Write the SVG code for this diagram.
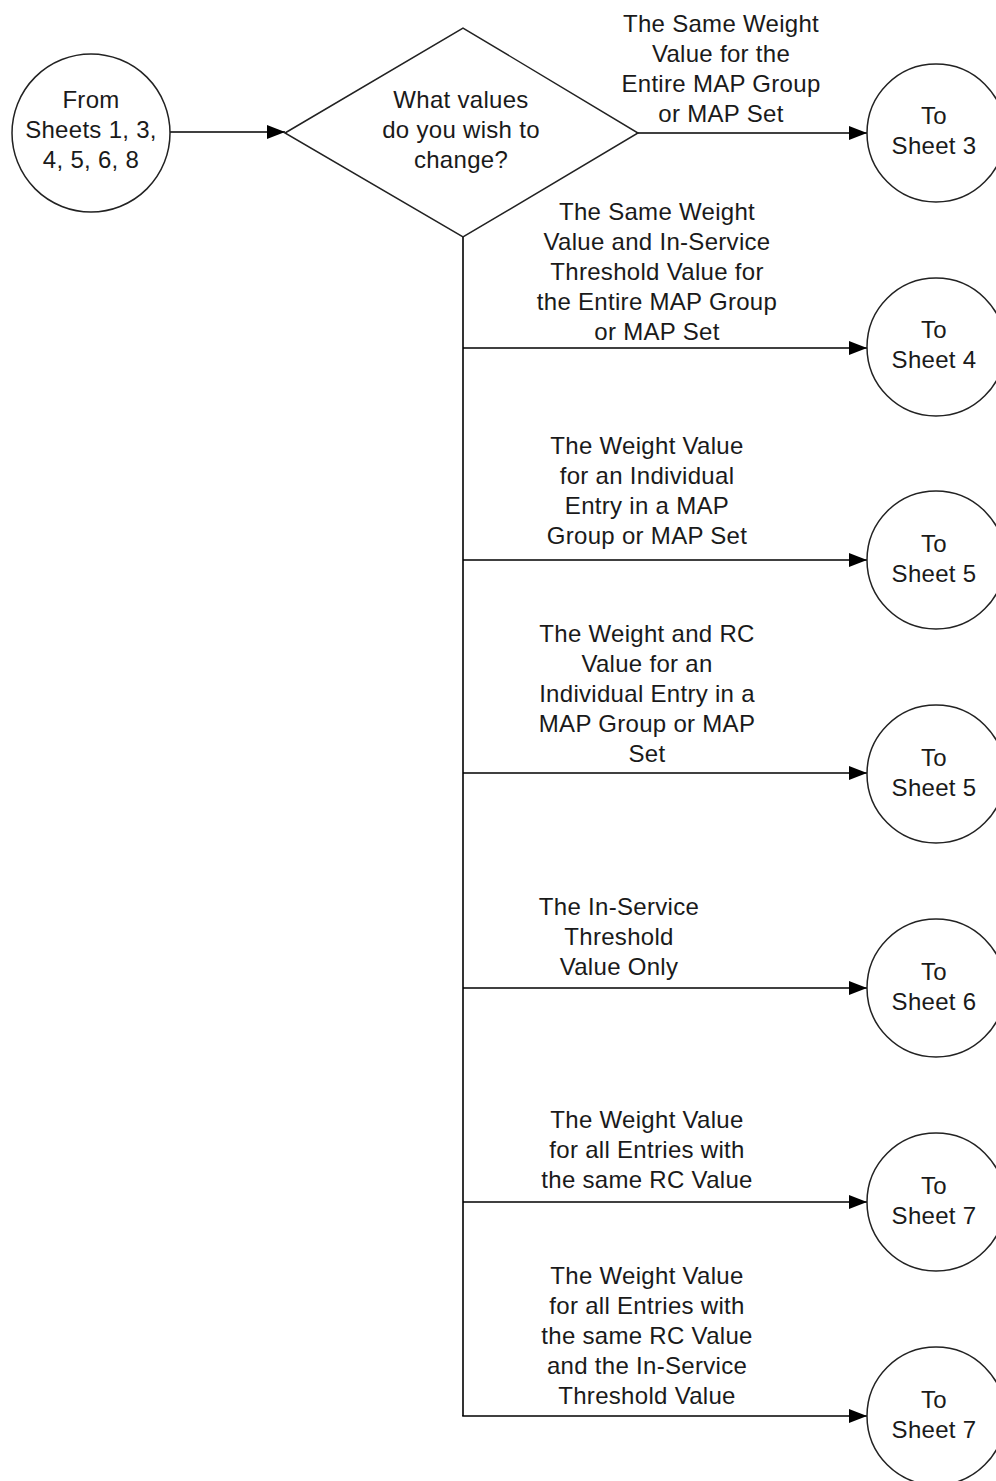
<svg xmlns="http://www.w3.org/2000/svg" width="996" height="1481" viewBox="0 0 996 1481">
<style>
.shape{fill:#fff;stroke:#222;stroke-width:1.5}
.conn{fill:none;stroke:#000;stroke-width:1.6}
text{font-family:"Liberation Sans",Arial,sans-serif;font-size:24px;letter-spacing:0.3px;fill:#1a1a1a;text-anchor:middle}
</style>
<defs>
<marker id="arr" markerWidth="18" markerHeight="14" refX="18" refY="7" orient="auto" markerUnits="userSpaceOnUse">
<path d="M0,0 L18,7 L0,14 Z" fill="#000"/>
</marker>
</defs>
<rect width="996" height="1481" fill="#fff"/>
<g id="connectors">
<line class="conn" x1="170" y1="132" x2="285" y2="132" marker-end="url(#arr)"/>
<line class="conn" x1="638" y1="133" x2="867" y2="133" marker-end="url(#arr)"/>
<polyline class="conn" points="463,237 463,1416"/>
<line class="conn" x1="463" y1="348" x2="867" y2="348" marker-end="url(#arr)"/>
<line class="conn" x1="463" y1="560" x2="867" y2="560" marker-end="url(#arr)"/>
<line class="conn" x1="463" y1="773" x2="867" y2="773" marker-end="url(#arr)"/>
<line class="conn" x1="463" y1="988" x2="867" y2="988" marker-end="url(#arr)"/>
<line class="conn" x1="463" y1="1202" x2="867" y2="1202" marker-end="url(#arr)"/>
<line class="conn" x1="462.2" y1="1416" x2="867" y2="1416" marker-end="url(#arr)"/>
</g>
<g id="labels">
<text x="721" y="32">The Same Weight</text>
<text x="721" y="62">Value for the</text>
<text x="721" y="92">Entire MAP Group</text>
<text x="721" y="122">or MAP Set</text>
<text x="657" y="220">The Same Weight</text>
<text x="657" y="250">Value and In-Service</text>
<text x="657" y="280">Threshold Value for</text>
<text x="657" y="310">the Entire MAP Group</text>
<text x="657" y="340">or MAP Set</text>
<text x="647" y="454">The Weight Value</text>
<text x="647" y="484">for an Individual</text>
<text x="647" y="514">Entry in a MAP</text>
<text x="647" y="544">Group or MAP Set</text>
<text x="647" y="642">The Weight and RC</text>
<text x="647" y="672">Value for an</text>
<text x="647" y="702">Individual Entry in a</text>
<text x="647" y="732">MAP Group or MAP</text>
<text x="647" y="762">Set</text>
<text x="619" y="915">The In-Service</text>
<text x="619" y="945">Threshold</text>
<text x="619" y="975">Value Only</text>
<text x="647" y="1128">The Weight Value</text>
<text x="647" y="1158">for all Entries with</text>
<text x="647" y="1188">the same RC Value</text>
<text x="647" y="1284">The Weight Value</text>
<text x="647" y="1314">for all Entries with</text>
<text x="647" y="1344">the same RC Value</text>
<text x="647" y="1374">and the In-Service</text>
<text x="647" y="1404">Threshold Value</text>
</g>
<g id="start">
<circle class="shape" cx="91" cy="133" r="79"/>
<text x="91" y="108">From</text>
<text x="91" y="138">Sheets 1, 3,</text>
<text x="91" y="168">4, 5, 6, 8</text>
</g>
<g id="decision">
<polygon class="shape" points="285,133 463,28 638,133 463,237"/>
<text x="461" y="108">What values</text>
<text x="461" y="138">do you wish to</text>
<text x="461" y="168">change?</text>
</g>
<g id="sheet3">
<circle class="shape" cx="936" cy="133" r="69"/>
<text x="934" y="124">To</text>
<text x="934" y="154">Sheet 3</text>
</g>
<g id="sheet4">
<circle class="shape" cx="936" cy="347" r="69"/>
<text x="934" y="338">To</text>
<text x="934" y="368">Sheet 4</text>
</g>
<g id="sheet5a">
<circle class="shape" cx="936" cy="560" r="69"/>
<text x="934" y="552">To</text>
<text x="934" y="582">Sheet 5</text>
</g>
<g id="sheet5b">
<circle class="shape" cx="936" cy="774" r="69"/>
<text x="934" y="766">To</text>
<text x="934" y="796">Sheet 5</text>
</g>
<g id="sheet6">
<circle class="shape" cx="936" cy="988" r="69"/>
<text x="934" y="980">To</text>
<text x="934" y="1010">Sheet 6</text>
</g>
<g id="sheet7a">
<circle class="shape" cx="936" cy="1202" r="69"/>
<text x="934" y="1194">To</text>
<text x="934" y="1224">Sheet 7</text>
</g>
<g id="sheet7b">
<circle class="shape" cx="936" cy="1416" r="69"/>
<text x="934" y="1408">To</text>
<text x="934" y="1438">Sheet 7</text>
</g>
</svg>
